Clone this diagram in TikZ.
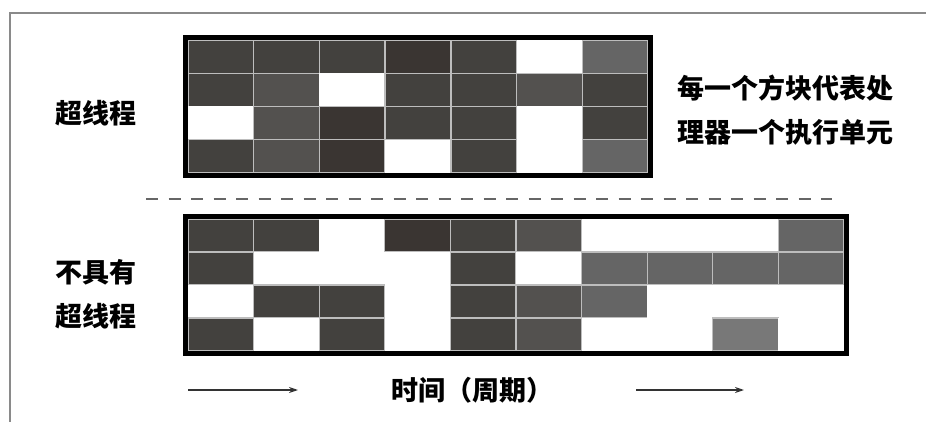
\documentclass[tikz,border=0pt]{standalone}
\usepackage{fontspec}
\newfontfamily\cjk{Noto Sans CJK SC}
\usetikzlibrary{arrows.meta}
\definecolor{colD}{HTML}{43413E}
\definecolor{colB}{HTML}{3A3532}
\definecolor{colM}{HTML}{53514F}
\definecolor{colG}{HTML}{656565}
\definecolor{colL}{HTML}{787878}
\definecolor{gridln}{HTML}{BDBDBD}
\definecolor{framegray}{HTML}{8A8A8A}
\begin{document}
\begin{tikzpicture}[x=1pt,y=-1pt,
  lbl/.style={font=\cjk\bfseries\fontsize{27}{30}\selectfont, inner sep=0pt},
  cellbox/.style={draw=gridln, line width=1.3pt},
  cellD/.style={fill=colD, cellbox},
  cellB/.style={fill=colB, cellbox},
  cellM/.style={fill=colM, cellbox},
  cellG/.style={fill=colG, cellbox},
  cellL/.style={fill=colL, cellbox},
  cellW/.style={fill=white},
  gridborder/.style={draw=black, line width=5pt},
  timearrow/.style={draw=black!80, line width=1.4pt, -{Stealth[length=9pt,width=6pt]}},
  sepline/.style={draw=black!60, line width=2.6pt, dash pattern=on 12pt off 10.5pt}]
\useasboundingbox (0,0) rectangle (926,422);
\draw[framegray, line width=1.6pt] (10,422) -- (10,13) -- (926,13);

% top grid: 7 columns x 4 rows
\foreach \row [count=\r] in {{D,D,D,B,D,W,G},{D,M,W,D,D,M,D},{W,M,B,D,D,W,D},{D,M,B,W,D,W,G}} {
  \foreach \c [count=\i] in \row {
    \pgfmathsetmacro\xa{188+(\i-1)*65.714}
    \pgfmathsetmacro\xb{188+\i*65.714}
    \pgfmathsetmacro\ya{40+(\r-1)*33.25}
    \pgfmathsetmacro\yb{40+\r*33.25}
    \path[cell\c] (\xa,\ya) rectangle (\xb,\yb);
  }
}
\draw[gridborder] (185.5,37.5) rectangle (650.5,175.5);

% bottom grid: 10 columns x 4 rows
\foreach \row [count=\r] in {{D,D,W,B,D,M,W,W,W,G},{D,W,W,W,D,W,G,G,G,G},{W,D,D,W,D,M,G,W,W,W},{D,W,D,W,D,M,W,W,L,W}} {
  \foreach \c [count=\i] in \row {
    \pgfmathsetmacro\xa{188+(\i-1)*65.6}
    \pgfmathsetmacro\xb{188+\i*65.6}
    \pgfmathsetmacro\ya{219+(\r-1)*33}
    \pgfmathsetmacro\yb{219+\r*33}
    \path[cell\c] (\xa,\ya) rectangle (\xb,\yb);
  }
}
\draw[gridborder] (185.5,216.5) rectangle (846.5,353.5);

% separator
\coordinate (sepL) at (146,199);
\coordinate (sepR) at (832,199);
\draw[sepline] (sepL) -- (sepR);

% labels
\node[lbl] (ht) at (96,113) {超线程};
\node[lbl] (nhta) at (96,272) {不具有};
\node[lbl] (nhtb) at (96,316) {超线程};
\node[lbl, anchor=east] (desca) at (894,88) {每一个方块代表处};
\node[lbl, anchor=east] (descb) at (894,132) {理器一个执行单元};
\node[lbl] (time) at (472,390) {时间（周期）};

% arrows
\coordinate (aLs) at (188,390);
\coordinate (aLe) at (298,390);
\coordinate (aRs) at (636,390);
\coordinate (aRe) at (744,390);
\draw[timearrow] (aLs) -- (aLe);
\draw[timearrow] (aRs) -- (aRe);
\end{tikzpicture}
\end{document}
